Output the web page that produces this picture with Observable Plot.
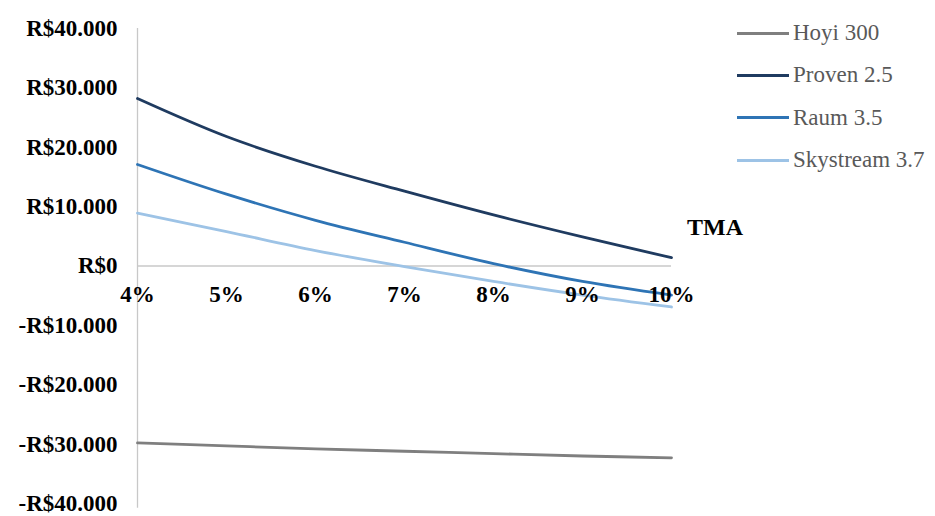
<!DOCTYPE html>
<html>
<head>
<meta charset="utf-8">
<script src="https://cdn.jsdelivr.net/npm/d3@7"></script>
<script src="https://cdn.jsdelivr.net/npm/@observablehq/plot@0.6"></script>
<style>
  html, body { margin: 0; padding: 0; background: #fff; font-family: 'Liberation Serif', serif; }
  #wrap { position: relative; width: 935px; height: 516px; font-family: 'Liberation Serif', serif; }
  #legend { position: absolute; left: 737px; top: 12px; }
  .item { display: flex; align-items: center; height: 42.3px; font-size: 23px; color: #595959; font-family: 'Liberation Serif', serif; }
  .sw { width: 52px; height: 3px; margin-right: 4px; }
  #tma { position: absolute; left: 687px; top: 214px; font-size: 24px; font-weight: bold; color: #000; font-family: 'Liberation Serif', serif; }
  svg text { font-family: 'Liberation Serif', serif !important; }
</style>
</head>
<body>
<div id="wrap">
  <div id="chart"></div>
  <div id="legend"></div>
  <div id="tma">TMA</div>
</div>
<script>
const rates = [4, 5, 6, 7, 8, 9, 10];
const seriesNames = ["Hoyi 300", "Proven 2.5", "Raum 3.5", "Skystream 3.7"];
const hoyi = [-29800, -30300, -30800, -31200, -31600, -32000, -32300];
const proven = [28200, 21800, 16800, 12600, 8600, 4900, 1400];
const raum = [17100, 12100, 7700, 4000, 400, -2600, -4900];
const skystream = [8900, 5800, 2600, -100, -2600, -4900, -6900];
const yTicks = [40000, 30000, 20000, 10000, 0, -10000, -20000, -30000, -40000];
const xTicks = [4, 5, 6, 7, 8, 9, 10];
const colors = ["#7f7f7f", "#1f3b60", "#2e74b5", "#9dc3e6"];

const values = [hoyi, proven, raum, skystream];
const data = [];
seriesNames.forEach((name, i) => rates.forEach((r, j) => data.push({series: name, rate: r, value: values[i][j]})));

const fmt = d => (d < 0 ? "-" : "") + "R$" + d3.format(",")(Math.abs(d)).replace(/,/g, ".");

const chart = Plot.plot({
  width: 935,
  height: 516,
  marginLeft: 137,
  marginRight: 264,
  marginTop: 28,
  marginBottom: 13,
  style: {fontFamily: "'Liberation Serif', serif", fontSize: "23px", color: "#000", background: "#fff"},
  x: {domain: [4, 10], axis: null},
  y: {domain: [-40000, 40000], axis: null},
  color: {domain: seriesNames, range: colors},
  marks: [
    Plot.ruleY([0], {stroke: "#c8c8c8", strokeWidth: 1.3}),
    Plot.ruleX([4], {y1: -40800, y2: 40000, stroke: "#c8c8c8", strokeWidth: 1.3}),
    Plot.line(data, {x: "rate", y: "value", z: "series", stroke: "series", strokeWidth: 2.8, curve: "catmull-rom"}),
    Plot.axisY({ticks: yTicks, tickSize: 0, tickPadding: 20, tickFormat: fmt, fontWeight: "bold", fontSize: 23, label: null, fill: "#000"}),
    Plot.text(xTicks, {x: d => d, y: 0, dy: 29, text: d => d + "%", fontWeight: "bold", fontSize: 23, fill: "#000"})
  ]
});
document.getElementById("chart").appendChild(chart);

const legend = document.getElementById("legend");
seriesNames.forEach((name, i) => {
  const it = document.createElement("div");
  it.className = "item";
  it.innerHTML = `<div class="sw" style="background:${colors[i]}"></div><span>${name}</span>`;
  legend.appendChild(it);
});
</script>
</body>
</html>
